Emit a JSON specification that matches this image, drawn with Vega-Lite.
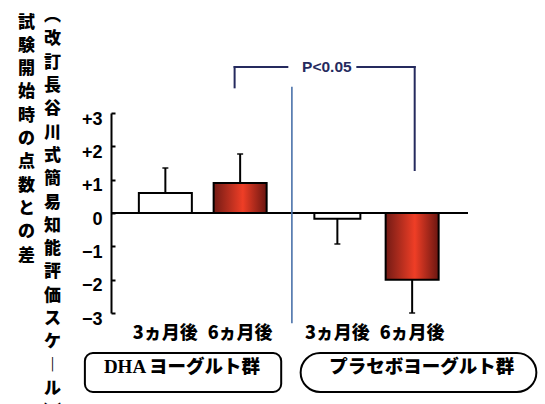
{
  "$schema": "https://vega.github.io/schema/vega-lite/v6.json",
  "width": 357,
  "height": 200,
  "autosize": {"type": "none"},
  "padding": {"left": 111, "top": 113, "right": 77, "bottom": 91},
  "background": "white",
  "config": {
    "view": {"stroke": null},
    "axis": {"labelOverlap": false, "labelBound": false, "labelFlush": false},
    "axisY": {"labelOverlap": false}
  },
  "data": {
    "values": [
      {"group": "DHAヨーグルト群", "period": "3ヵ月後", "slot": 1, "mean": 0.6, "errEnd": 1.35},
      {"group": "DHAヨーグルト群", "period": "6ヵ月後", "slot": 2, "mean": 0.9, "errEnd": 1.77},
      {"group": "プラセボヨーグルト群", "period": "3ヵ月後", "slot": 3.3, "mean": -0.17, "errEnd": -0.93},
      {"group": "プラセボヨーグルト群", "period": "6ヵ月後", "slot": 4.3, "mean": -2.0, "errEnd": -3.0}
    ]
  },
  "encoding": {
    "y": {
      "type": "quantitative",
      "scale": {"domain": [-3, 3], "nice": false},
      "axis": {
        "values": [-3, -2, -1, 0, 1, 2, 3],
        "title": null,
        "labelExpr": "datum.value > 0 ? '+' + datum.value : (datum.value < 0 ? '−' + (-datum.value) : '0')",
        "labelOverlap": false,
        "grid": false,
        "domainColor": "black", "domainWidth": 2,
        "tickColor": "black", "tickWidth": 2, "tickSize": -4,
        "labelFont": "Liberation Sans", "labelFontSize": 18, "labelFontWeight": "bold", "labelColor": "black",
        "labelPadding": 13, "labelOffset": 6
      }
    }
  },
  "layer": [
    {
      "transform": [{"filter": "datum.period === '3ヵ月後'"}],
      "mark": {"type": "bar", "fill": "white", "stroke": "black", "strokeWidth": 2},
      "encoding": {
        "x": {"field": "slot", "type": "quantitative", "scale": {"domain": [0.34, 4.98], "nice": false, "zero": false}, "axis": null},
        "y": {"field": "mean", "type": "quantitative"},
        "y2": {"datum": 0},
        "size": {"condition": {"test": "datum.group === 'プラセボヨーグルト群'", "value": 46}, "value": 53}
      }
    },
    {
      "transform": [{"filter": "datum.period === '6ヵ月後'"}],
      "mark": {
        "type": "bar",
        "fill": {"gradient": "linear", "x1": 0, "y1": 0, "x2": 1, "y2": 0,
          "stops": [{"offset": 0, "color": "#731b15"}, {"offset": 0.55, "color": "#ef3e26"}, {"offset": 1, "color": "#6a1611"}]},
        "stroke": "black", "strokeWidth": 2
      },
      "encoding": {
        "x": {"field": "slot", "type": "quantitative"},
        "y": {"field": "mean", "type": "quantitative"},
        "y2": {"datum": 0},
        "size": {"value": 53}
      }
    },
    {
      "mark": {"type": "rule", "color": "black", "strokeWidth": 2},
      "encoding": {
        "x": {"field": "slot", "type": "quantitative"},
        "y": {"field": "mean", "type": "quantitative"},
        "y2": {"field": "errEnd"}
      }
    },
    {
      "mark": {"type": "tick", "orient": "horizontal", "color": "black", "thickness": 2},
      "encoding": {
        "x": {"field": "slot", "type": "quantitative"},
        "y": {"field": "errEnd", "type": "quantitative"},
        "size": {"value": 6}
      }
    },
    {
      "data": {"values": [{}]},
      "mark": {"type": "rule", "color": "black", "strokeWidth": 2},
      "encoding": {"y": {"datum": 0}}
    },
    {
      "data": {"values": [{}]},
      "mark": {"type": "rule", "color": "#4a72aa", "strokeWidth": 1.6},
      "encoding": {"x": {"datum": 2.692}, "y": {"datum": 3.79}, "y2": {"datum": -3.31}}
    },
    {
      "data": {"values": [{}]},
      "mark": {"type": "rule", "color": "#252a5e", "strokeWidth": 2, "strokeCap": "square"},
      "encoding": {"x": {"datum": 1.926}, "y": {"datum": 4.38}, "y2": {"datum": 3.77}}
    },
    {
      "data": {"values": [{}]},
      "mark": {"type": "rule", "color": "#252a5e", "strokeWidth": 2, "strokeCap": "square"},
      "encoding": {"x": {"datum": 1.926}, "x2": {"datum": 2.631}, "y": {"datum": 4.38}}
    },
    {
      "data": {"values": [{}]},
      "mark": {"type": "rule", "color": "#252a5e", "strokeWidth": 2, "strokeCap": "square"},
      "encoding": {"x": {"datum": 3.567}, "x2": {"datum": 4.334}, "y": {"datum": 4.38}}
    },
    {
      "data": {"values": [{}]},
      "mark": {"type": "rule", "color": "#252a5e", "strokeWidth": 2, "strokeCap": "square"},
      "encoding": {"x": {"datum": 4.334}, "y": {"datum": 4.38}, "y2": {"datum": 1.29}}
    },
    {
      "data": {"values": [{}]},
      "mark": {"type": "text", "font": "Liberation Sans", "fontWeight": "bold", "fontSize": 15.5, "color": "#252a5e", "align": "center", "baseline": "middle"},
      "encoding": {"x": {"datum": 3.16}, "y": {"datum": 4.38}, "text": {"value": "P<0.05"}}
    },
    {
      "mark": {"type": "text", "font": "Noto Sans CJK JP", "fontWeight": 900, "fontSize": 18, "color": "black", "align": "center", "baseline": "middle"},
      "encoding": {"x": {"field": "slot", "type": "quantitative"}, "y": {"datum": -3.63}, "text": {"field": "period"}}
    },
    {
      "data": {"values": [{}]},
      "mark": {"type": "rect", "fill": "transparent", "stroke": "black", "strokeWidth": 2, "cornerRadius": 8},
      "encoding": {"x": {"datum": -0.076}, "x2": {"datum": 2.549}, "y": {"datum": -4.2}, "y2": {"datum": -5.37}}
    },
    {
      "data": {"values": [{}]},
      "mark": {"type": "rect", "fill": "transparent", "stroke": "black", "strokeWidth": 2, "cornerRadius": 19.5},
      "encoding": {"x": {"datum": 2.809}, "x2": {"datum": 5.961}, "y": {"datum": -4.2}, "y2": {"datum": -5.37}}
    },
    {
      "data": {"values": [{}]},
      "mark": {"type": "text", "font": "Liberation Serif", "fontWeight": "bold", "fontSize": 19, "color": "black", "align": "right", "baseline": "middle"},
      "encoding": {"x": {"datum": 0.743}, "y": {"datum": -4.62}, "text": {"value": "DHA"}}
    },
    {
      "data": {"values": [{}]},
      "mark": {"type": "text", "font": "Noto Sans CJK JP", "fontWeight": 900, "fontSize": 18.5, "color": "black", "align": "left", "baseline": "middle"},
      "encoding": {"x": {"datum": 0.781}, "y": {"datum": -4.62}, "text": {"value": "ヨーグルト群"}}
    },
    {
      "data": {"values": [{}]},
      "mark": {"type": "text", "font": "Noto Sans CJK JP", "fontWeight": 900, "fontSize": 18.5, "color": "black", "align": "center", "baseline": "middle"},
      "encoding": {"x": {"datum": 4.428}, "y": {"datum": -4.62}, "text": {"value": "プラセボヨーグルト群"}}
    },
    {
      "data": {"values": [{}]},
      "mark": {"type": "text", "font": "Noto Sans CJK JP", "fontWeight": 900, "fontSize": 17, "color": "black", "align": "center", "baseline": "top", "lineHeight": 23.3},
      "encoding": {"x": {"datum": -0.856}, "y": {"datum": 5.955}, "text": {"value": ["試", "験", "開", "始", "時", "の", "点", "数", "と", "の", "差"]}}
    },
    {
      "data": {"values": [{}]},
      "mark": {"type": "text", "font": "Noto Sans CJK JP", "fontWeight": 900, "fontSize": 17, "color": "black", "align": "center", "baseline": "top", "lineHeight": 23.3},
      "encoding": {"x": {"datum": -0.509}, "y": {"datum": 6.144}, "text": {"value": ["︵", "改", "訂", "長", "谷", "川", "式", "簡", "易", "知", "能", "評", "価", "ス", "ケ", "︱", "ル", "︶"]}}
    }
  ]
}
